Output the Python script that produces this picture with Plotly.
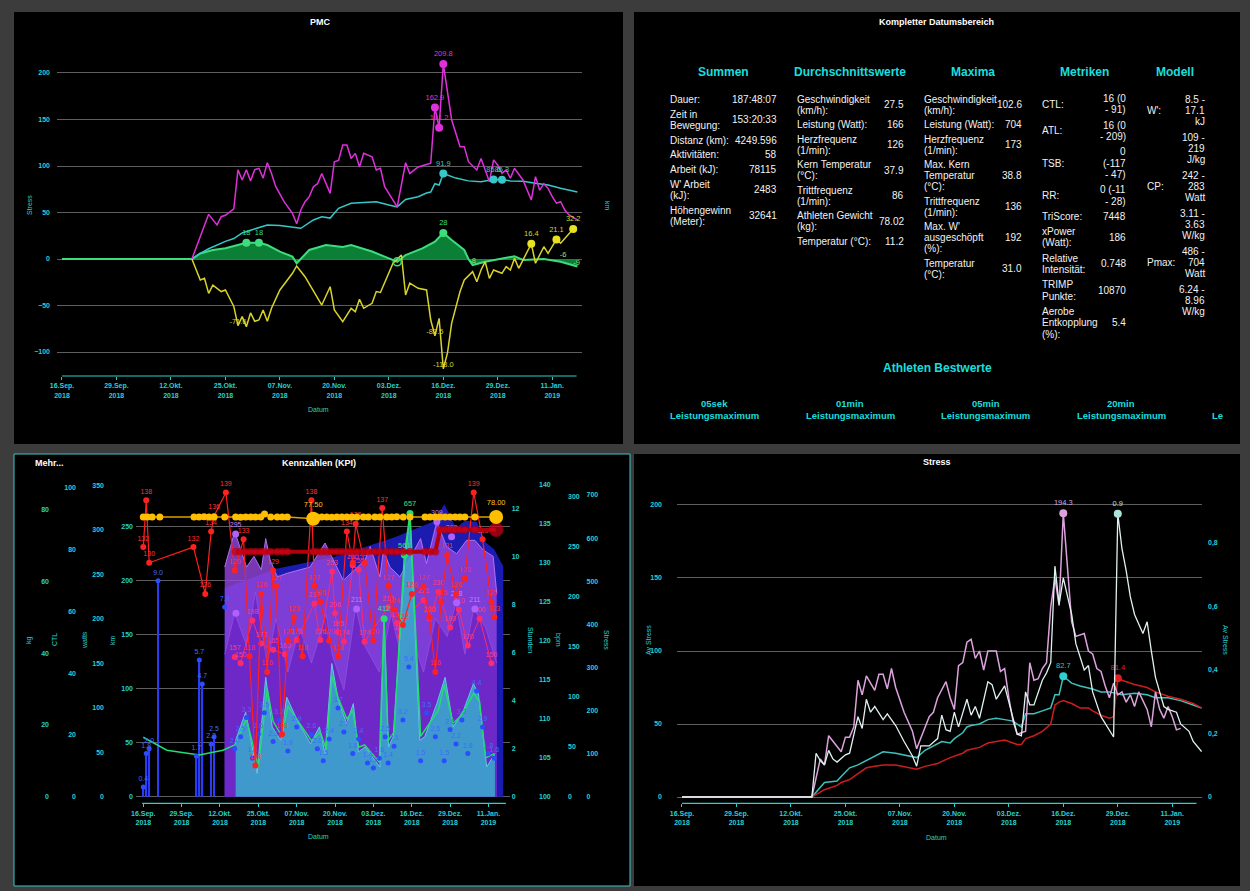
import pandas as pd
import plotly.graph_objects as go

W, H = 1250, 891
START = pd.Timestamp("2018-09-16")
FONT = "Liberation Sans, Arial, Helvetica, sans-serif"
CYAN = "#26d0d0"
HEAD = "#19dede"
GRID = "#5e5e5e"
BG = "#3c3c3c"

# ---------------- shared date ticks ----------------
tick_days = [0, 13, 26, 39, 52, 65, 78, 91, 104, 117]
tick_text = ["16.Sep.<br>2018", "29.Sep.<br>2018", "12.Okt.<br>2018", "25.Okt.<br>2018",
             "07.Nov.<br>2018", "20.Nov.<br>2018", "03.Dez.<br>2018", "16.Dez.<br>2018",
             "29.Dez.<br>2018", "11.Jan.<br>2019"]

# ---------------- PMC data (days after 16.Sep.2018) ----------------
atl_day = [31, 35, 37, 38, 39, 41, 42, 43, 44, 45, 46, 47, 48, 49, 50, 51, 53, 55, 56, 57,
           58, 59, 60, 61, 62, 64, 65, 66, 67, 68, 69, 70, 71, 72, 74, 75, 76, 77, 80, 82,
           83, 84, 85, 88, 89, 90, 91, 93, 95, 96, 97, 99, 100, 101, 102, 103, 104, 105, 106, 107,
           108, 110, 112, 113, 114, 115, 116, 117, 118, 119, 120, 121, 123]
atl_val = [0, 48, 36.6, 45.5, 47, 54, 96, 85, 96, 84, 96, 97.5, 87, 103.5, 92, 78, 61.6, 49, 38, 52.7,
           61.6, 67, 77.7, 81, 92, 70.6, 104.6, 106, 122.6, 122.6, 108, 113.6, 99, 113.6, 110, 95.7, 97.5, 77.7, 56, 103.5,
           92, 95.7, 99, 103, 162.9, 141.2, 209.8, 149.5, 120.8, 120.8, 104.6, 95.7, 108, 95.7, 83, 106.5, 101, 92, 95.7, 86.8,
           97.5, 85, 63.4, 88.5, 74, 81, 76, 67, 60, 61.6, 52.7, 47.3, 42]
atl_mark_day = [89, 90, 91]
atl_mark_val = [162.9, 141.2, 209.8]

ctl_day = [31, 33, 35, 37, 39, 41, 43, 45, 47, 49, 52, 55, 57, 60, 62, 64, 66, 69, 71, 75,
           78, 80, 82, 85, 87, 88, 89, 90, 91, 94, 97, 100, 103, 105, 107, 110, 113, 116, 119, 122, 123]
ctl_val = [0, 6, 11, 15, 19, 22, 28, 31, 34, 36.5, 36, 34, 33, 42, 45.5, 44, 54.5, 60, 60.5, 61.6,
           58, 56, 64, 67, 71, 72, 81, 79.6, 91.9, 87, 84, 83, 85.6, 85.3, 84, 83.5, 81.4, 79.6, 76, 73, 72]
ctl_mark_day = [91, 103, 105]
ctl_mark_val = [91.9, 85.6, 85.3]

rr_day = [0, 31, 33, 36, 39, 41, 44, 47, 49, 52, 55, 56, 59, 63, 67, 69, 74, 77, 80, 82,
          86, 89, 91, 93, 96, 97, 98, 101, 108, 110, 115, 119, 123]
rr_val = [0, 0, 6, 9.7, 11.5, 14, 17.5, 17.5, 15, 8, 2.5, -4.6, 9.7, 15, 13, 15, 8, 2.5, -3, 4.3,
          11.5, 18.6, 28, 20.4, 9.7, 0, -6.5, -3, 3, -1, 0, -3, -8]
rr_mark_day = [44, 47, 91]
rr_mark_val = [17.5, 17.5, 28]
rr_note_day = [98, 119.6, 122.8]
rr_note_val = [-6.5, 0, -8]
rr_note_txt = ["-8", "-6", "-9"]

tsb_day = [31, 33, 34, 35, 36, 38, 39, 41, 42, 43, 44, 45, 46, 47, 48, 49, 50, 52, 55, 56,
           58, 60, 62, 64, 65, 67, 69, 70, 71, 72, 74, 75, 76, 79, 81, 82, 83, 85, 87, 88,
           89, 90, 91, 92, 93, 95, 96, 98, 99, 100, 101, 102, 103, 105, 106, 107, 108, 109, 112, 113,
           115, 116, 118, 119, 122]
tsb_val = [0, -22.6, -20.8, -37, -28, -35, -33.3, -51, -71.6, -62, -72.8, -58, -67, -65.6, -54.8, -67, -53, -33.3, -15.4, -7.5,
           -19, -35, -49.5, -29.8, -54.8, -67.4, -53, -56.6, -43.4, -53, -47.6, -35, -36, -4.6, 4.3, -38.7, -26, -31.5, -33.3, -65.6,
           -82.5, -63.8, -118, -101, -69, -35, -22.6, -13.6, -24.4, -11.8, -2.9, -20.8, -11.8, -15.4, -8.3, -11.8, 0.7, -10, 16.4, -4.6,
           13.2, 6.1, 21.1, 16.9, 32.2]
tsb_mark_day = [112, 118, 122]
tsb_mark_val = [16.4, 21.1, 32.2]
tsb_note_day = [42, 89, 91]
tsb_note_val = [-71.6, -82.5, -118.0]

# ---------------- Stress data ----------------
pink_day = [0, 31, 33, 34, 35, 37, 38, 39, 40, 41, 42, 43, 44, 46, 47, 48, 49, 50, 51, 53,
            55, 56, 58, 59, 60, 61, 63, 64, 65, 66, 67, 68, 69, 70, 71, 72, 73, 75, 76, 77,
            78, 79, 80, 82, 83, 84, 85, 86, 87, 88, 89, 90, 91, 92, 93, 94, 96, 97, 98, 99,
            100, 101, 102, 103, 104, 105, 106, 107, 108, 109, 111, 112, 113, 114, 115, 116, 117, 118, 119]
pink_val = [0, 0, 26, 22, 42, 35, 31, 41, 41, 48, 80, 70, 83, 73, 84, 84, 74, 88, 75, 58,
            45, 33, 47, 55, 58, 68, 79, 68, 60, 90, 92, 106, 108, 95, 100, 87, 100, 100, 86, 88,
            68, 52, 43, 45, 92, 80, 81, 88, 92, 130, 150, 131, 194.3, 160, 120, 110, 112, 100, 98, 88,
            86, 76, 68, 78, 70, 72, 65, 70, 62, 72, 60, 48, 72, 60, 54, 62, 55, 46, 47]

white_day = [0, 31, 32, 33, 34, 35, 36, 37, 39, 40, 42, 43, 44, 45, 46, 48, 49, 51, 53, 55,
             56, 57, 59, 61, 62, 63, 64, 65, 66, 68, 69, 70, 71, 73, 74, 75, 77, 78, 80, 81,
             82, 83, 84, 86, 87, 88, 89, 90, 91, 93, 94, 96, 97, 98, 100, 103, 104, 105, 106, 107,
             108, 110, 111, 112, 113, 114, 115, 116, 118, 119, 121, 122, 124]
white_val = [0, 0, 0.138, 0.115, 0.101, 0.147, 0.120, 0.110, 0.133, 0.138, 0.253, 0.216, 0.308, 0.267, 0.285, 0.244, 0.262, 0.225, 0.175, 0.129,
             0.097, 0.161, 0.161, 0.184, 0.258, 0.212, 0.207, 0.267, 0.221, 0.308, 0.258, 0.285, 0.248, 0.363, 0.354, 0.308, 0.350, 0.299, 0.198, 0.193,
             0.331, 0.290, 0.290, 0.368, 0.391, 0.423, 0.727, 0.607, 0.690, 0.575, 0.483, 0.400, 0.414, 0.331, 0.253, 0.189, 0.892, 0.782, 0.713, 0.630,
             0.575, 0.515, 0.552, 0.460, 0.377, 0.331, 0.285, 0.276, 0.267, 0.230, 0.207, 0.175, 0.143]

teal_day = [0, 31, 34, 37, 38, 40, 42, 44, 46, 48, 51, 53, 56, 58, 60, 62, 64, 65, 67, 68,
            69, 71, 73, 75, 77, 79, 80, 81, 82, 84, 86, 88, 89, 90, 91, 93, 95, 98, 100, 102,
            105, 108, 111, 113, 116, 119, 122, 124]
teal_val = [0, 0, 10, 11, 14, 20, 22, 25, 28, 31, 30, 29, 27, 32, 35, 38, 37, 40, 44, 48,
            49, 50, 53, 54, 53, 52, 50, 48, 57, 57, 59, 61, 70, 70, 82.7, 78, 76, 74, 72, 72,
            70, 71, 70, 68, 68, 66, 63, 61]

red_day = [0, 31, 34, 37, 38, 40, 42, 44, 46, 48, 51, 53, 56, 58, 61, 64, 67, 68, 71, 73,
           75, 77, 79, 80, 81, 82, 84, 86, 88, 89, 90, 91, 93, 95, 97, 98, 100, 102, 103, 104,
           105, 108, 111, 113, 116, 119, 122, 124]
red_val = [0, 0, 5, 8, 10, 12, 16, 20, 21, 22, 22, 21, 19, 21, 23, 27, 30, 32, 34, 37,
           38, 39, 37, 36, 36, 40, 42, 45, 50, 63, 65, 66, 64, 61, 61, 59, 56, 54, 55, 81.4,
           80, 77, 75, 72, 69, 67, 64, 61]

# ---------------- KPI data ----------------
hours_day = [0, 1, 2, 5, 18, 19, 20, 23, 24]
hours_val = [0.4, 1.8, 2.0, 9.0, 1.7, 5.7, 4.7, 2.2, 2.5]
hours_area_day = [27.6, 45, 65, 85, 99, 102, 106, 109, 113, 116, 119, 122]
hours_area_val = [8.7, 9.5, 10, 10.8, 11.5, 12.2, 11.2, 11.5, 11.46, 10.6, 10.3, 9.6]
hm_day = [0, 1, 2, 5, 18, 19, 20, 23, 24, 27.6,
          31, 33, 35, 37, 39, 41, 44, 46, 49, 52, 57, 59, 61, 63, 66, 68, 71, 73, 76, 78,
          80, 82, 83, 85, 88, 90, 94, 96, 99, 102, 104, 106, 108, 110, 113, 115, 117, 119]
hm_val = [0.4, 1.8, 2.0, 9.0, 1.7, 5.7, 4.7, 2.2, 2.5, 7.9,
          2.0, 2.5, 3.3, 1.6, 2.6, 3.5, 2.3, 3.2, 1.9, 2.9, 2.6, 2.0, 1.5, 2.4, 3.7, 2.7, 1.8, 2.4, 1.4, 1.2,
          1.6, 2.5, 1.4, 2.1, 3.2, 5.4, 1.5, 3.5, 2.5, 1.5, 2.8, 2.2, 3.2, 1.8, 4.4, 2.9, 1.8, 1.6]

watt_hi_day = [27.6, 31, 35, 37.5, 40, 41.5, 43, 45.4, 48.8, 56.5, 61.6, 64.4, 67.8, 75.2, 76.9,
               80.2, 81.4, 83.6, 87, 94, 96, 99.5, 102.8, 106.2, 109.6, 112.4, 115.3, 118.6, 119.8]
watt_hi_val = [258, 298, 258, 270, 255, 290, 266, 247, 251, 258, 285, 266, 243, 266, 281,
               247, 277, 258, 247, 290, 262, 309, 281, 273, 288, 288, 277, 270, 229]
watt_lo_day = [27.6, 31, 35, 38, 42, 45, 49, 53, 57, 62, 64, 68, 72, 75, 80, 84, 88, 91, 95, 99,
               103, 106, 109, 112, 116, 119.8]
watt_lo_val = [160, 206, 170, 230, 150, 200, 140, 190, 150, 205, 160, 120, 213, 170, 140, 205, 150, 180, 140, 200,
               180, 218, 160, 211, 190, 150]
pw_day = [31, 33, 37, 40, 44, 48, 52, 58, 60, 64, 65, 66, 68, 71, 73, 75, 83, 86, 87, 90,
          95, 97, 100, 104, 107, 110, 114, 118]
pw_val = [157, 150, 198, 172, 165, 160, 176, 217, 176, 253, 206, 185, 174, 260, 255, 174, 213, 195, 180, 206,
          221, 200, 230, 190, 210, 170, 200, 150]
np_day = [31.3, 31.4, 72.3, 99.5, 104.5, 106.2, 112.4]
np_val = [295, 206, 211, 309, 292, 218, 211]
np_txt = ["295", "", "211", "309", "292", "218", "211"]

stress_area_day = [31.3, 34.7, 38.6, 41.5, 43.7, 46.6, 48.6, 52.2, 56.7, 59.7, 61.6, 63.9, 66.1, 68.9, 71.2,
                   72.9, 75.2, 80.2, 81.6, 83.1, 84.7, 88.7, 90.4, 93.7, 95.4, 99.5, 102.3, 105.1, 108.5, 111.9,
                   113.6, 116.4, 119.2]
stress_area_val = [131, 196, 54, 277, 162, 131, 231, 177, 123, 162, 100, 309, 223, 170, 216,
                   104, 115, 69, 413, 115, 139, 547, 656, 131, 139, 216, 277, 162, 200, 262,
                   239, 69, 100]
green_day = [0, 8, 19, 27, 31, 35, 39, 42, 44, 47, 49, 52, 57, 60, 62, 64, 66, 69, 71, 73,
             75, 80, 81.6, 83, 85, 88.5, 90.4, 94, 95, 100, 102, 105, 108, 112, 114, 116, 119]
green_val = [138, 108, 97, 108, 120, 180, 70, 250, 175, 140, 210, 180, 130, 150, 110, 280, 230, 180, 200, 115,
             120, 80, 413, 130, 150, 561, 657, 140, 150, 200, 260, 170, 190, 240, 220, 90, 100]
green_mark_day = [81.6, 88.5, 90.4]
green_mark_val = [413, 561, 657]
green_mark_txt = ["412", "561", "657"]

hr_day = [0, 1, 2, 17, 21, 23, 24, 28, 31, 34, 36, 38, 40, 42, 44, 45, 47, 49, 51, 54,
          57, 58, 60, 63, 66, 69, 71, 72, 75, 78, 81, 83, 85, 88, 91, 95, 97, 99, 101, 103,
          106, 109, 112, 115, 118, 119]
hr_val = [132, 138, 130, 132, 126, 134, 136, 139, 129, 133, 118, 104, 126, 116, 129, 127, 108, 120, 123, 118,
          138, 127, 125, 120, 118, 134, 130, 135, 130, 120, 137, 127, 124, 122, 126, 127, 123, 116, 125, 131,
          126, 128, 139, 133, 125, 123]

cp_day = [31.3, 33, 34.7, 36.4, 38, 39.8, 41.1, 43.2, 45.4, 47.1, 48.8, 57.6, 58.8, 60.5, 62.2, 63.9, 65.6,
          67.3, 69, 70.7, 72.4, 74.6, 76.3, 78.5, 80.2, 82.5, 84.2, 85.9, 88.1, 90.4, 95.5, 97.2, 99,
          100.6, 102.3, 104, 105.7, 107.3, 109, 112.4, 119.6]
cp_val = [245, 245, 245, 245, 245, 245, 245, 245, 245, 245, 245, 245, 245, 245, 245, 245, 245,
          245, 245, 245, 245, 245, 245, 245, 245, 245, 245, 245, 245, 245, 245, 245, 245,
          267, 267, 267, 267, 267, 267, 267, 267]

w_day = [0, 1.4, 3, 5.6, 17.2, 18.9, 20.6, 22.3, 24, 27.6,
         31.3, 33, 34.7, 36.4, 38, 39.8, 41.1, 43.2, 45.4, 47.1,
         48.8, 57.6, 58.8, 60.5, 62.2, 63.9, 65.6, 67.3, 69, 70.7,
         72.4, 74.6, 76.3, 78.5, 80.2, 82.5, 84.2, 85.9, 88.1, 90.4,
         95.5, 97.2, 98.9, 100.6, 102.3, 104, 105.7, 107.3, 109, 112.4, 119.6]
w_val = [78.0, 78.0, 78.0, 78.0, 78.0, 78.0, 78.1, 78.0, 78.0, 78.0,
         78.0, 77.9, 78.0, 78.0, 78.0, 78.0, 78.8, 78.0, 78.0, 78.0,
         78.0, 77.5, 78.0, 78.0, 78.0, 77.9, 78.0, 78.0, 78.0, 78.0,
         78.0, 78.0, 78.0, 78.0, 78.0, 78.0, 78.0, 78.1, 78.0, 78.0,
         78.0, 78.0, 78.0, 78.0, 78.0, 78.0, 78.0, 78.0, 78.0, 78.0, 78.0]
w_big_day = [57.6, 119.6]
w_big_val = [77.5, 78.0]

# ---------------- table data ----------------
summen_rows = [
    (["Dauer:"], ["187:48:07"]),
    (["Zeit in", "Bewegung:"], ["153:20:33"]),
    (["Distanz (km):"], ["4249.596"]),
    (["Aktivitäten:"], ["58"]),
    (["Arbeit (kJ):"], ["78115"]),
    (["W' Arbeit", "(kJ):"], ["2483"]),
    (["Höhengewinn", "(Meter):"], ["32641"]),
]
durch_rows = [
    (["Geschwindigkeit", "(km/h):"], ["27.5"]),
    (["Leistung (Watt):"], ["166"]),
    (["Herzfrequenz", "(1/min):"], ["126"]),
    (["Kern Temperatur", "(°C):"], ["37.9"]),
    (["Trittfrequenz", "(1/min):"], ["86"]),
    (["Athleten Gewicht", "(kg):"], ["78.02"]),
    (["Temperatur (°C):"], ["11.2"]),
]
maxima_rows = [
    (["Geschwindigkeit", "(km/h):"], ["102.6"]),
    (["Leistung (Watt):"], ["704"]),
    (["Herzfrequenz", "(1/min):"], ["173"]),
    (["Max. Kern", "Temperatur", "(°C):"], ["38.8"]),
    (["Trittfrequenz", "(1/min):"], ["136"]),
    (["Max. W'", "ausgeschöpft", "(%):"], ["192"]),
    (["Temperatur", "(°C):"], ["31.0"]),
]
metriken_rows = [
    (["CTL:"], ["16 (0", "- 91)"]),
    (["ATL:"], ["16 (0", "- 209)"]),
    (["TSB:"], ["0", "(-117", "- 47)"]),
    (["RR:"], ["0 (-11", "- 28)"]),
    (["TriScore:"], ["7448"]),
    (["xPower", "(Watt):"], ["186"]),
    (["Relative", "Intensität:"], ["0.748"]),
    (["TRIMP", "Punkte:"], ["10870"]),
    (["Aerobe", "Entkopplung", "(%):"], ["5.4"]),
]
modell_rows = [
    (["W':"], ["8.5 -", "17.1", "kJ"]),
    ([], ["109 -", "219", "J/kg"]),
    (["CP:"], ["242 -", "283", "Watt"]),
    ([], ["3.11 -", "3.63", "W/kg"]),
    (["Pmax:"], ["486 -", "704", "Watt"]),
    ([], ["6.24 -", "8.96", "W/kg"]),
]
headers = ["Summen", "Durchschnittswerte", "Maxima", "Metriken", "Modell"]
best_labels = ["05sek", "01min", "05min", "20min"]


def dates(days):
    return [START + pd.Timedelta(days=float(v)) for v in days]


def fx(p):
    return p / W


def fy(p):
    return 1 - p / H


fig = go.Figure()


def sc(x, y, xa, ya, **kw):
    fig.add_trace(go.Scatter(x=dates(x), y=y, xaxis=xa, yaxis=ya, hoverinfo="skip", **kw))


def lbl(size, color):
    return dict(family=FONT, size=size, color=color)


# ===== KPI (bottom-left) — layer order follows axis order =====
sc(hours_area_day, hours_area_val, "x", "y", mode="lines", fill="tozeroy",
   fillcolor="#1b1bb0", line=dict(width=0, color="#1b1bb0"))
fig.add_trace(go.Bar(x=dates(hours_day), y=hours_val, width=0.6 * 86400000, xaxis="x", yaxis="y",
                     marker=dict(color="#2a3cf5", line=dict(width=0)), hoverinfo="skip"))
sc(watt_hi_day, watt_hi_val, "x", "y2", mode="lines", fill="tozeroy",
   fillcolor="rgba(150,70,225,0.80)", line=dict(width=1, color="rgba(185,120,245,0.9)"))
sc(watt_lo_day, watt_lo_val, "x", "y2", mode="lines", fill="tozeroy",
   fillcolor="rgba(105,35,195,0.80)", line=dict(width=0.8, color="rgba(150,80,230,0.9)"))
sc(pw_day, pw_val, "x", "y2", mode="lines+markers+text", text=[f"{v:.0f}" for v in pw_val],
   textposition="top center", textfont=lbl(7, "#ff3c80"), cliponaxis=False,
   line=dict(width=1, color="#ff2a6a"), marker=dict(size=6, color="#ff2a6a"))
sc(np_day, np_val, "x", "y2", mode="markers+text", text=np_txt, textposition="top center",
   textfont=lbl(7, "#c080ff"), cliponaxis=False, marker=dict(size=7, color="#b060ff"))
sc(stress_area_day, stress_area_val, "x", "y3", mode="lines", fill="tozeroy",
   fillcolor="rgba(58,165,205,0.90)", line=dict(width=1, color="#5ccbe0"))
sc(green_day, green_val, "x", "y3", mode="lines", line=dict(width=1.5, color="#22dd6e"))
sc(green_mark_day, green_mark_val, "x", "y3", mode="markers+text", text=green_mark_txt,
   textposition="top center", textfont=lbl(7.5, "#30e080"), cliponaxis=False,
   marker=dict(size=7, color="#22e070"))
sc(hm_day, hm_val, "x", "y4", mode="markers+text", text=[f"{v:.1f}" for v in hm_val],
   textposition="top center", textfont=lbl(7, "#3f6bff"), cliponaxis=False,
   marker=dict(size=5, color="#2b4cff"))
# y5 (km) and y6 (CTL) carry no visible data: transparent anchors so the axes get drawn
sc(hours_day[:1], [0], "x", "y5", mode="markers", marker=dict(size=1, opacity=0))
sc(hours_day[:1], [0], "x", "y6", mode="markers", marker=dict(size=1, opacity=0))
sc(hr_day, hr_val, "x", "y7", mode="lines+markers+text", text=[f"{v:.0f}" for v in hr_val],
   textposition="top center", textfont=lbl(7, "#ff3030"), cliponaxis=False,
   line=dict(width=1.2, color="#ff1f1f"), marker=dict(size=6, color="#ff2020"))
sc(cp_day, cp_val, "x", "y8", mode="lines+markers", line=dict(width=4, color="#b0000c"),
   marker=dict(size=[14 if d == cp_day[-1] else 7 for d in cp_day], color="#d0001a"))
sc(w_day, w_val, "x", "y9", mode="lines+markers", line=dict(width=1.5, color="#dca000"),
   marker=dict(size=7, color="#ffbf00"))
sc(w_big_day, w_big_val, "x", "y9", mode="markers+text", text=[f"{v:.2f}" for v in w_big_val],
   textposition="top center", textfont=lbl(7.5, "#ffc020"), cliponaxis=False,
   marker=dict(size=14, color="#ffbf00"))

# ===== PMC (top-left) =====
MAG, CY, GR, YE = "#e030dc", "#35c8c8", "#3ddc7c", "#d8d42c"
sc(rr_day, rr_val, "x2", "y10", mode="lines", fill="tozeroy", fillcolor="rgba(12,138,58,0.92)",
   line=dict(width=2, color=GR))
sc(ctl_day, ctl_val, "x2", "y10", mode="lines", line=dict(width=1.5, color=CY))
sc(atl_day, atl_val, "x2", "y10", mode="lines", line=dict(width=1.5, color=MAG))
sc(tsb_day, tsb_val, "x2", "y10", mode="lines", line=dict(width=1.5, color=YE))
sc(atl_mark_day, atl_mark_val, "x2", "y10", mode="markers+text", text=[f"{v:.1f}" for v in atl_mark_val],
   textposition="top center", textfont=lbl(7.5, MAG), cliponaxis=False, marker=dict(size=8, color=MAG))
sc(ctl_mark_day, ctl_mark_val, "x2", "y10", mode="markers+text", text=[f"{v:.1f}" for v in ctl_mark_val],
   textposition="top center", textfont=lbl(7.5, CY), cliponaxis=False, marker=dict(size=8, color=CY))
sc(rr_mark_day, rr_mark_val, "x2", "y10", mode="markers+text", text=[f"{v:.0f}" for v in rr_mark_val],
   textposition="top center", textfont=lbl(7.5, GR), cliponaxis=False, marker=dict(size=8, color=GR))
sc([80], [-3], "x2", "y10", mode="markers", marker=dict(size=8, color=GR, symbol="circle-open", line=dict(width=1.5)))
sc(rr_note_day, rr_note_val, "x2", "y10", mode="text", text=rr_note_txt, textposition="top center",
   textfont=lbl(7.5, "#9be070"), cliponaxis=False)
sc(tsb_mark_day, tsb_mark_val, "x2", "y10", mode="markers+text", text=[f"{v:.1f}" for v in tsb_mark_val],
   textposition="top center", textfont=lbl(7.5, YE), cliponaxis=False, marker=dict(size=8, color="#e8e020"))
sc(tsb_note_day, tsb_note_val, "x2", "y10", mode="text", text=[f"{v:.1f}" for v in tsb_note_val],
   textposition="top center", textfont=lbl(7.5, YE), cliponaxis=False)

# ===== Stress (bottom-right) =====
PK, WT, TL, RD = "#dca2dc", "#e0f2f0", "#3ec2bc", "#cc1e1e"
sc(teal_day, teal_val, "x3", "y12", mode="lines", line=dict(width=1.5, color=TL))
sc(red_day, red_val, "x3", "y12", mode="lines", line=dict(width=1.5, color=RD))
sc(pink_day, pink_val, "x3", "y12", mode="lines", line=dict(width=1.5, color=PK))
sc([91], [194.3], "x3", "y12", mode="markers+text", text=["194.3"], textposition="top center",
   textfont=lbl(7.5, PK), cliponaxis=False, marker=dict(size=8, color=PK))
sc([91], [82.7], "x3", "y12", mode="markers+text", text=["82.7"], textposition="top center",
   textfont=lbl(7.5, TL), cliponaxis=False, marker=dict(size=8, color="#30d0d0"))
sc([104], [81.4], "x3", "y12", mode="markers+text", text=["81.4"], textposition="top center",
   textfont=lbl(7.5, "#e02020"), cliponaxis=False, marker=dict(size=8, color="#e02020"))
sc(white_day, white_val, "x3", "y13", mode="lines", line=dict(width=1.3, color=WT))
sc([104], [0.892], "x3", "y13", mode="markers+text", text=["0.9"], textposition="top center",
   textfont=lbl(7.5, "#a8e4dc"), cliponaxis=False, marker=dict(size=8, color="#a8e4dc"))

# ===== axes =====
tf = dict(family=FONT, size=7, color=CYAN, weight="bold")


def xax(px0, px1, d0, d1, anchor):
    return dict(domain=[fx(px0), fx(px1)], range=dates([d0, d1]), type="date", anchor=anchor,
                tickmode="array", tickvals=dates(tick_days), ticktext=tick_text,
                ticks="outside", ticklen=3, tickcolor=CYAN, showgrid=False, zeroline=False,
                showline=False, tickfont=tf, fixedrange=True, automargin=False)


def yax(**kw):
    base = dict(showgrid=False, zeroline=False, showline=False, ticks="", tickfont=tf,
                fixedrange=True, automargin=False)
    base.update(kw)
    return base


kdom = [fy(803.3), fy(484)]
pdom = [fy(376), fy(45)]
sdom = [fy(803.3), fy(480)]
axes = dict(
    xaxis=xax(136, 510, -2.47, 124.3, "y"),
    yaxis=yax(domain=kdom, range=[-0.275, 13.03], anchor="free", position=0.4085, side="right",
              tickvals=[0, 2, 4, 6, 8, 10, 12]),
    yaxis2=yax(overlaying="y", range=[-7.42, 351.3], anchor="free", position=0.0832, side="left",
               tickvals=list(range(0, 351, 50))),
    yaxis3=yax(overlaying="y", range=[-15.3, 725.5], anchor="free", position=0.4684, side="right",
               tickvals=list(range(0, 701, 100))),
    yaxis4=yax(overlaying="y", range=[-0.275, 13.03], visible=False),
    yaxis5=yax(overlaying="y", range=[-6.1, 289.5], anchor="free", position=0.1064, side="left",
               tickvals=list(range(0, 251, 50)), showgrid=True, gridcolor=GRID, gridwidth=1),
    yaxis6=yax(overlaying="y", range=[-2.14, 101.3], anchor="free", position=0.0608, side="left",
               tickvals=list(range(0, 101, 20))),
    yaxis7=yax(overlaying="y", range=[99.154, 140.09], anchor="free", position=0.4304, side="right",
               tickvals=list(range(100, 141, 5))),
    yaxis8=yax(overlaying="y", range=[-6.6, 312.7], anchor="free", position=0.4536, side="right",
               tickvals=list(range(0, 301, 50))),
    yaxis9=yax(overlaying="y", range=[-1.84, 87.2], anchor="free", position=0.0392, side="left",
               tickvals=list(range(0, 81, 20))),
    xaxis2=xax(57, 582, -1.19, 124.1, "y10"),
    yaxis10=yax(domain=pdom, range=[-125.8, 230.1], anchor="x2", side="left",
                tickvals=[-100, -50, 0, 50, 100, 150, 200], showgrid=True, gridcolor=GRID,
                ticklabelstandoff=6),
    yaxis11=yax(overlaying="y10", range=[-5.3, 286.8], anchor="x2", side="right",
                tickvals=[0, 50, 100, 150, 200, 250], ticklabelstandoff=6),
    xaxis3=xax(677, 1202, -1.19, 124.1, "y12"),
    yaxis12=yax(domain=sdom, range=[-4.3, 217.1], anchor="x3", side="left",
                tickvals=[0, 50, 100, 150, 200], showgrid=True, gridcolor=GRID, ticklabelstandoff=14),
    yaxis13=yax(overlaying="y12", range=[-0.0198, 0.9984], anchor="x3", side="right",
                tickvals=[0, 0.2, 0.4, 0.6, 0.8], ticktext=["0", "0,2", "0,4", "0,6", "0,8"],
                ticklabelstandoff=5),
)

# ===== shapes: panels and axis lines =====
shapes = []
for (x0, y0, x1, y1, border) in [(14, 12, 623, 444, None), (634, 12, 1240, 444, None),
                                 (14, 454, 630, 886, "#3cc6c6"), (634, 454, 1240, 886, None)]:
    shapes.append(dict(type="rect", xref="paper", yref="paper", x0=fx(x0), x1=fx(x1), y0=fy(y1), y1=fy(y0),
                       fillcolor="#000000", layer="below",
                       line=dict(width=1 if border else 0, color=border or "#000000")))
for xr, yr, a, b in [("x2", "y10 domain", 0, 122.8), ("x", "y domain", -0.4, 122.9), ("x3", "y12 domain", 0, 122.8)]:
    d0, d1 = dates([a, b])
    shapes.append(dict(type="line", xref=xr, yref=yr, x0=d0, x1=d1, y0=0, y1=0,
                       line=dict(color=CYAN, width=1.2)))

# ===== annotations =====
ann = []


def note(x, y, text, size=10, color="#f2f2f2", bold=False, xanchor="center", angle=0):
    ann.append(dict(x=fx(x), y=fy(y), xref="paper", yref="paper", text=text, showarrow=False,
                    xanchor=xanchor, yanchor="middle", textangle=angle, borderpad=0,
                    font=dict(family=FONT, size=size, color=color, weight="bold" if bold else "normal")))


note(320, 22, "PMC", 9, "#ffffff", True)
note(936, 22, "Kompletter Datumsbereich", 9, "#ffffff", True)
note(49, 463, "Mehr...", 9, "#ffffff", True)
note(319, 463, "Kennzahlen (KPI)", 9, "#ffffff", True)
note(937, 462, "Stress", 9, "#ffffff", True)
note(318, 409, "Datum", 7, CYAN)
note(30, 205, "Stress", 7, CYAN, angle=-90)
note(608, 206, "km", 7, CYAN, angle=90)
note(318, 836, "Datum", 7, CYAN)
for t, xx in [("kg", 29), ("CTL", 54), ("watts", 84), ("km", 112)]:
    note(xx, 640, t, 7, CYAN, angle=-90)
for t, xx in [("Stunden", 531), ("bpm", 558), ("Stress", 607)]:
    note(xx, 640, t, 7, CYAN, angle=90)
note(936, 837, "Datum", 7, CYAN)
note(648, 640, "Av Stress", 7, CYAN, angle=-90)
note(1226, 640, "Av Stress", 7, CYAN, angle=90)

for h, cx in zip(headers, [723, 850, 973, 1084, 1175]):
    note(cx, 72, h, 12, HEAD, True)
for rows, xl, xr, top, lh, pad in [(summen_rows, 669, 778, 92, 11.3, 3.4),
                                    (durch_rows, 796, 905, 92, 11, 3.5),
                                    (maxima_rows, 923, 1023, 92, 11, 3.5),
                                    (metriken_rows, 1041, 1127, 91, 11.3, 4),
                                    (modell_rows, 1146, 1206, 91.7, 11, 5)]:
    y = top
    for lab, val in rows:
        n = max(len(lab), len(val))
        h = n * lh + pad
        c = y + h / 2
        for i, t in enumerate(lab):
            note(xl, c + (i - (len(lab) - 1) / 2) * lh, t, 10, xanchor="left")
        for i, t in enumerate(val):
            note(xr, c + (i - (len(val) - 1) / 2) * lh, t, 10, xanchor="right")
        y += h
note(937, 368, "Athleten Bestwerte", 12, HEAD, True)
for t, cx in zip(best_labels, [715, 850, 986, 1121]):
    note(cx, 404, t, 9.5, HEAD, True)
    note(cx, 415.5, "Leistungsmaximum", 9.5, HEAD, True)
note(1211, 415.5, "Le", 9.5, HEAD, True, xanchor="left")

fig.update_layout(
    width=W, height=H, autosize=False, margin=dict(l=0, r=0, t=0, b=0, pad=0, autoexpand=False),
    paper_bgcolor=BG, plot_bgcolor="rgba(0,0,0,0)", showlegend=False, hovermode=False,
    font=dict(family=FONT, color="#ffffff"), shapes=shapes, annotations=ann, **axes,
)
fig.write_html("out.html")
